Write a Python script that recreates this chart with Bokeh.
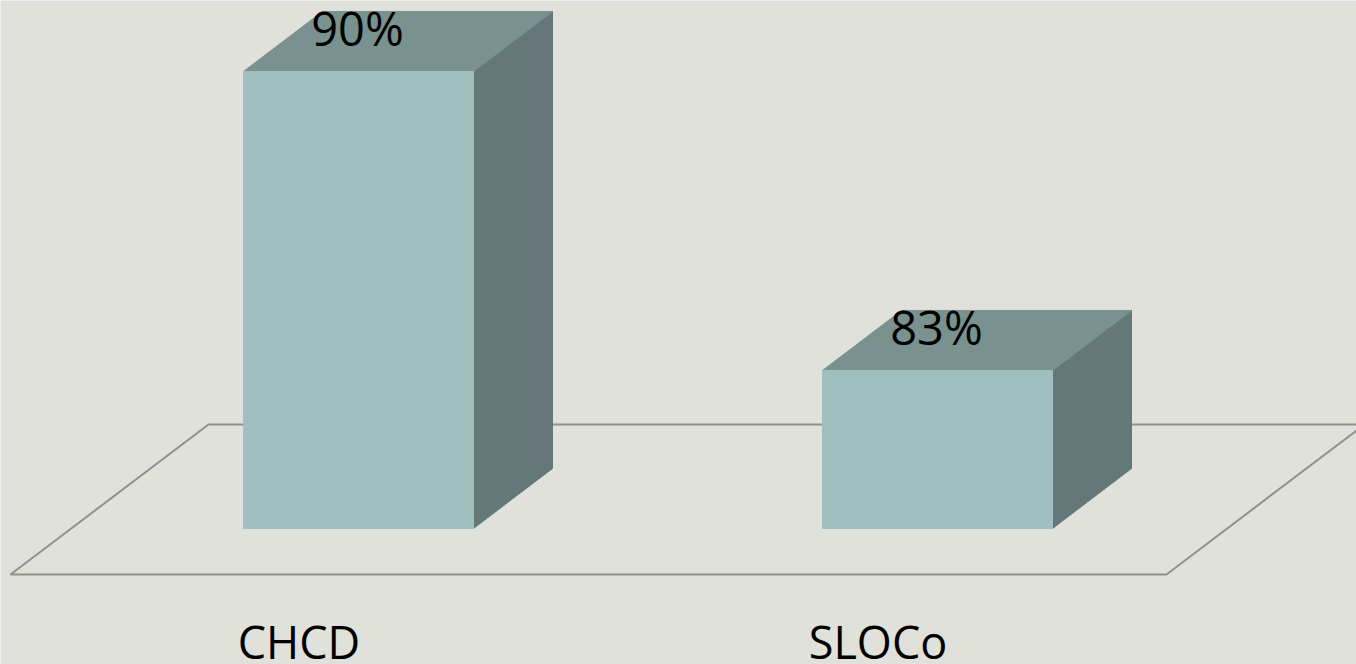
from bokeh.plotting import figure
from bokeh.models import Range1d, ColumnDataSource
from bokeh.embed import file_html
from bokeh.resources import INLINE
from bokeh.core.properties import value

categories = ["CHCD", "SLOCo"]
values = [90, 83]
value_labels = ["90%", "83%"]

BASE = 79.3
PX_PER_UNIT_X = 579.0
PX_PER_UNIT_Y = 299.0 / 7.0
W, H = 1356, 664
X0_PX, Y0_PX = 358.0, 528.0

BAR_W = 230.0 / PX_PER_UNIT_X
DX = 79.0 / PX_PER_UNIT_X
DY = 60.0 / PX_PER_UNIT_Y

FRONT, TOP, SIDE = "#9fc0bf", "#79918f", "#657879"
BG, FLOOR = "#e0e1db", "#90918c"
FONT = "Open Sans"


def xd(px):
    return (px - X0_PX) / PX_PER_UNIT_X


def yd(py):
    return BASE + (Y0_PX - py) / PX_PER_UNIT_Y


p = figure(
    width=W, height=H, output_backend="svg", toolbar_location=None,
    x_range=Range1d(xd(0), xd(W)), y_range=Range1d(yd(H), yd(0)),
    background_fill_color=BG, border_fill_color=BG,
    min_border=0, outline_line_color=None,
)
p.axis.visible = False
p.grid.visible = False

# floor outline
fx = [xd(1166), xd(10), xd(208), xd(1364), xd(1166)]
fy = [yd(574), yd(574), yd(424), yd(424), yd(574)]
p.line(fx, fy, line_color=FLOOR, line_width=2)

idx = list(range(len(categories)))
lefts = [i - BAR_W / 2 for i in idx]
rights = [i + BAR_W / 2 for i in idx]

side_xs = [[r, r + DX, r + DX, r] for r in rights]
side_ys = [[BASE, BASE + DY, v + DY, v] for v in values]
top_xs = [[l, r, r + DX, l + DX] for l, r in zip(lefts, rights)]
top_ys = [[v, v, v + DY, v + DY] for v in values]

p.patches(side_xs, side_ys, fill_color=SIDE, line_color=SIDE, line_width=1)
p.patches(top_xs, top_ys, fill_color=TOP, line_color=TOP, line_width=1)
p.vbar(x=idx, width=BAR_W, bottom=BASE, top=values, fill_color=FRONT, line_color=FRONT, line_width=1)

# value labels sit on the top face of each box
p.text(
    x=[i - 1.0 / PX_PER_UNIT_X for i in idx],
    y=[v + DY / 2 + 0.32 for v in values], text=value_labels,
    text_font=value(FONT), text_font_size="47px", text_color="#000000",
    text_align="center", text_baseline="middle",
)

# category labels
cat_src = ColumnDataSource(dict(x=[i - 59.5 / PX_PER_UNIT_X for i in idx],
                                y=[yd(641)] * len(idx), t=categories))
p.text(
    x="x", y="y", text="t", source=cat_src,
    text_font=value(FONT), text_font_size="45px", text_color="#000000",
    text_align="center", text_baseline="middle",
)

open("out.html", "w").write(file_html(p, INLINE))
